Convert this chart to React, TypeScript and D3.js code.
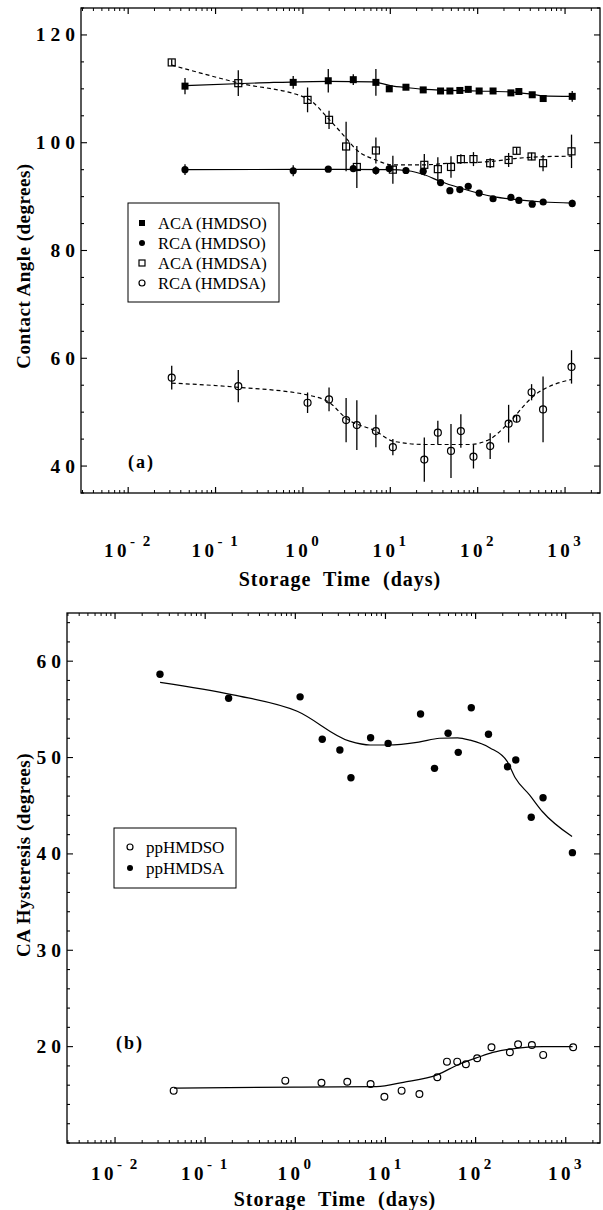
import React from 'react';
import * as d3 from 'd3';

// ---------- DATA ----------
// storage times (days)
const hmdsoTimes = [0.0447, 0.774, 1.95, 3.77, 6.84, 9.73, 15.1, 23.8, 37.6, 48.1, 62.5, 78.0, 104, 150, 240, 296, 421, 562, 1208];
const hmdsaTimes = [0.0315, 0.182, 1.13, 1.99, 3.12, 4.14, 6.84, 10.7, 24.5, 35.0, 49.5, 64.2, 89.5, 139, 226, 279, 414, 560, 1186];

// panel (a): contact angles (degrees)
const acaHmdso = [110.5, 111.2, 111.5, 111.7, 111.2, 110.0, 110.3, 109.8, 109.6, 109.6, 109.7, 109.9, 109.6, 109.6, 109.25, 109.5, 108.9, 108.2, 108.6];
const acaHmdsoErr = [1.5, 1.2, 2.2, 1.0, 2.5, 0.5, 0.5, 0.5, 0.5, 0.5, 0.5, 0.6, 0.5, 0.5, 0.5, 0.6, 0.5, 0.5, 1.0];
const rcaHmdso = [95.0, 94.8, 95.1, 95.2, 94.85, 95.2, 94.85, 94.7, 92.6, 91.1, 91.3, 91.9, 90.66, 89.6, 89.85, 89.3, 88.6, 89.0, 88.74];
const rcaHmdsoErr = [1.0, 1.0, 0.5, 0.5, 0.8, 0.5, 0.5, 0.5, 0.5, 0.5, 0.5, 0.5, 0.5, 0.5, 0.5, 0.5, 0.5, 0.5, 0.7];
const acaHmdsa = [114.9, 111.05, 107.95, 104.25, 99.3, 95.5, 98.56, 95.0, 95.9, 95.1, 95.5, 96.96, 96.96, 96.2, 96.8, 98.5, 97.45, 96.2, 98.4];
const acaHmdsaErr = [0.6, 2.4, 2.3, 1.7, 4.6, 3.9, 2.4, 2.6, 2.0, 2.2, 2.0, 0.9, 1.3, 0.9, 1.3, 0.6, 0.7, 1.5, 3.1];
const rcaHmdsa = [56.4, 54.83, 51.75, 52.36, 48.53, 47.6, 46.5, 43.5, 41.2, 46.2, 42.8, 46.5, 41.75, 43.7, 47.86, 48.8, 53.7, 50.5, 58.4];
const rcaHmdsaErr = [2.2, 3.0, 1.9, 2.2, 4.1, 4.6, 3.0, 1.5, 4.1, 2.2, 5.0, 3.1, 2.2, 2.4, 3.5, 0.7, 1.5, 6.1, 3.1];

// fitted curves panel (a): [days, degrees]
const acaHmdsoFit: [number, number][] = [[0.0447, 110.6], [0.316, 111.1], [2.0, 111.4], [6.3, 111.3], [10, 110.6], [15.8, 110.2], [25, 109.9], [100, 109.6], [251, 109.4], [417, 109.0], [562, 108.7], [1208, 108.6]];
const rcaHmdsoFit: [number, number][] = [[0.0447, 95.0], [1, 95.05], [10, 95.0], [15.8, 94.8], [25, 94.0], [37.6, 92.8], [63, 91.6], [150, 90.0], [295, 89.4], [562, 89.0], [1208, 88.8]];
const acaHmdsaFit: [number, number][] = [[0.0315, 114.4], [0.182, 111.1], [1.12, 108.2], [2.0, 104.3], [3.1, 100.9], [4.1, 98.7], [6.84, 96.8], [10.6, 95.9], [24, 95.9], [49, 96.2], [138, 96.5], [279, 97.1], [553, 97.4], [1186, 97.5]];
const rcaHmdsaFit: [number, number][] = [[0.0315, 55.4], [0.185, 54.6], [1.12, 53.2], [2.0, 51.8], [3.16, 48.8], [6.76, 46.5], [10.8, 44.6], [25, 44.0], [80, 44.0], [138, 45.0], [214, 47.6], [437, 53.0], [1200, 56.1]];

// panel (b): hysteresis (degrees)
const hystHmdso = [15.43, 16.47, 16.26, 16.36, 16.12, 14.8, 15.43, 15.09, 16.82, 18.44, 18.44, 18.17, 18.79, 19.93, 19.41, 20.24, 20.17, 19.14, 19.93];
const hystHmdsa = [58.64, 56.15, 56.3, 51.9, 50.78, 47.9, 52.06, 51.47, 54.52, 48.88, 52.52, 50.54, 55.17, 52.41, 49.05, 49.75, 43.8, 45.83, 40.13];
const hystHmdsoFit: [number, number][] = [[0.0452, 15.7], [1, 15.8], [7.94, 15.85], [15.8, 16.3], [38, 17.1], [63.1, 18.1], [107, 18.9], [155, 19.4], [295, 19.85], [562, 20.0], [1189, 20.0]];
const hystHmdsaFit: [number, number][] = [[0.0316, 57.8], [0.204, 56.5], [1.05, 54.8], [4.0, 51.7], [6.76, 51.3], [10.5, 51.3], [23.4, 51.6], [39.8, 52.0], [63.1, 52.05], [87.1, 51.8], [144.5, 51.0], [224, 49.6], [275, 47.9], [398, 46.1], [550, 44.4], [1175, 41.8]];

// axes
const xDecades = [-2, -1, 0, 1, 2, 3];
const yTicksA = [40, 60, 80, 100, 120];
const yTicksB = [20, 30, 40, 50, 60];
const legendA = ['ACA (HMDSO)', 'RCA (HMDSO)', 'ACA (HMDSA)', 'RCA (HMDSA)'];
const legendB = ['ppHMDSO', 'ppHMDSA'];

const SERIF = "'Liberation Serif', 'Times New Roman', serif";

type Marker = 'fsq' | 'fci' | 'osq' | 'oci';

function MarkerShape({ kind, x, y, s }: { kind: Marker; x: number; y: number; s: number }) {
  if (kind === 'fsq') return <rect x={x - s / 2} y={y - s / 2} width={s} height={s} fill="#000" />;
  if (kind === 'osq') return <rect x={x - s / 2} y={y - s / 2} width={s} height={s} fill="none" stroke="#000" strokeWidth={1.2} />;
  if (kind === 'fci') return <circle cx={x} cy={y} r={s / 2} fill="#000" />;
  return <circle cx={x} cy={y} r={s / 2} fill="none" stroke="#000" strokeWidth={1.2} />;
}

function Frame({ x, y, yMinor, yMajor, labelBaseline }: any) {
  const [x0, x1] = x.range();
  const [y0, y1] = y.range(); // y0 bottom, y1 top
  const dom = x.domain();
  const minors: number[] = [];
  for (let d = -3; d <= 3; d++) {
    for (let k = 2; k <= 9; k++) {
      const v = k * Math.pow(10, d);
      if (v > dom[0] && v < dom[1]) minors.push(v);
    }
  }
  const majorLen = 6, minorLen = 3;
  return (
    <g>
      <rect x={x0} y={y1} width={x1 - x0} height={y0 - y1} fill="none" stroke="#000" strokeWidth={1.3} />
      {xDecades.map((d) => {
        const px = x(Math.pow(10, d));
        return (
          <g key={'xm' + d}>
            <line x1={px} x2={px} y1={y0} y2={y0 - majorLen} stroke="#000" strokeWidth={1.2} />
            <line x1={px} x2={px} y1={y1} y2={y1 + majorLen} stroke="#000" strokeWidth={1.2} />
            <text x={px} y={labelBaseline} textAnchor="middle" fontFamily={SERIF} fontWeight="bold" fontSize={19} letterSpacing={3.5}>
              10<tspan dy={-11} fontSize={15} letterSpacing={2}>{String(d).replace('-', '- ')}</tspan>
            </text>
          </g>
        );
      })}
      {minors.map((v, i) => {
        const px = x(v);
        return (
          <g key={'xn' + i}>
            <line x1={px} x2={px} y1={y0} y2={y0 - minorLen} stroke="#000" strokeWidth={1} />
            <line x1={px} x2={px} y1={y1} y2={y1 + minorLen} stroke="#000" strokeWidth={1} />
          </g>
        );
      })}
      {yMinor.map((v: number, i: number) => {
        const py = y(v);
        const isMajor = yMajor.includes(v);
        const len = isMajor ? majorLen : minorLen;
        return (
          <g key={'y' + i}>
            <line x1={x0} x2={x0 + len} y1={py} y2={py} stroke="#000" strokeWidth={1.1} />
            <line x1={x1} x2={x1 - len} y1={py} y2={py} stroke="#000" strokeWidth={1.1} />
          </g>
        );
      })}
      {yMajor.map((v: number) => (
        <text key={'yl' + v} x={x0 - 1} y={y(v) + 6.5} textAnchor="end" fontFamily={SERIF} fontWeight="bold" fontSize={19.5} letterSpacing={5}>
          {v}
        </text>
      ))}
    </g>
  );
}

function Series({ x, y, times, vals, errs, kind, size }: any) {
  return (
    <g>
      {errs &&
        times.map((t: number, i: number) => (
          <line key={'e' + i} x1={x(t)} x2={x(t)} y1={y(vals[i] - errs[i])} y2={y(vals[i] + errs[i])} stroke="#000" strokeWidth={1.3} />
        ))}
      {times.map((t: number, i: number) => (
        <MarkerShape key={'m' + i} kind={kind} x={x(t)} y={y(vals[i])} s={size} />
      ))}
    </g>
  );
}

function Fit({ x, y, pts, dashed }: any) {
  const line = d3
    .line<[number, number]>()
    .x((d) => x(d[0]))
    .y((d) => y(d[1]))
    .curve(d3.curveMonotoneX);
  return <path d={line(pts) || ''} fill="none" stroke="#000" strokeWidth={1.2} strokeDasharray={dashed ? '4,3' : undefined} />;
}

export default function App() {
  const W = 603, H = 1210;
  // panel (a)
  const xA = d3.scaleLog().domain([Math.pow(10, -2.54), Math.pow(10, 3.4)]).range([81, 600]);
  const yA = d3.scaleLinear().domain([35, 125]).range([493, 8]);
  // panel (b)
  const xB = d3.scaleLog().domain([Math.pow(10, -2.533), Math.pow(10, 3.38)]).range([67, 600]);
  const yB = d3.scaleLinear().domain([10, 65]).range([1143, 613]);

  const yMinorA = d3.range(35, 126, 5);
  const yMinorB = d3.range(10, 65, 2);

  const legendKindsA: Marker[] = ['fsq', 'fci', 'osq', 'oci'];
  const legendKindsB: Marker[] = ['oci', 'fci'];

  return (
    <svg width={W} height={H} viewBox={`0 0 ${W} ${H}`} style={{ display: 'block', position: 'absolute', left: 0, top: 0, background: '#fff' }}>
      <rect x={0} y={0} width={W} height={H} fill="#fff" />
      {/* ---------- Panel (a) ---------- */}
      <Frame x={xA} y={yA} yMinor={yMinorA} yMajor={yTicksA} labelBaseline={557} />
      <Fit x={xA} y={yA} pts={acaHmdsoFit} />
      <Fit x={xA} y={yA} pts={rcaHmdsoFit} />
      <Fit x={xA} y={yA} pts={acaHmdsaFit} dashed />
      <Fit x={xA} y={yA} pts={rcaHmdsaFit} dashed />
      <Series x={xA} y={yA} times={hmdsoTimes} vals={acaHmdso} errs={acaHmdsoErr} kind="fsq" size={7} />
      <Series x={xA} y={yA} times={hmdsoTimes} vals={rcaHmdso} errs={rcaHmdsoErr} kind="fci" size={7.2} />
      <Series x={xA} y={yA} times={hmdsaTimes} vals={acaHmdsa} errs={acaHmdsaErr} kind="osq" size={7} />
      <Series x={xA} y={yA} times={hmdsaTimes} vals={rcaHmdsa} errs={rcaHmdsaErr} kind="oci" size={7} />

      <rect x={128} y={203} width={151} height={99} fill="#fff" stroke="#000" strokeWidth={1} />
      {legendA.map((lab, i) => (
        <g key={lab}>
          <MarkerShape kind={legendKindsA[i]} x={142} y={223 + i * 20} s={6} />
          <text x={158} y={229 + i * 20} fontFamily={SERIF} fontSize={16.5}>
            {lab}
          </text>
        </g>
      ))}
      <text x={128} y={468} fontFamily={SERIF} fontWeight="bold" fontSize={18} letterSpacing={2}>
        (a)
      </text>
      <text x={340} y={586} textAnchor="middle" fontFamily={SERIF} fontWeight="bold" fontSize={20} letterSpacing={1} wordSpacing={6}>
        Storage Time (days)
      </text>
      <text transform="translate(30,266) rotate(-90)" textAnchor="middle" fontFamily={SERIF} fontWeight="bold" fontSize={19} letterSpacing={0.5}>
        Contact Angle (degrees)
      </text>

      {/* ---------- Panel (b) ---------- */}
      <Frame x={xB} y={yB} yMinor={yMinorB} yMajor={yTicksB} labelBaseline={1180} />
      <Fit x={xB} y={yB} pts={hystHmdsoFit} />
      <Fit x={xB} y={yB} pts={hystHmdsaFit} />
      <Series x={xB} y={yB} times={hmdsoTimes} vals={hystHmdso} kind="oci" size={6.8} />
      <Series x={xB} y={yB} times={hmdsaTimes} vals={hystHmdsa} kind="fci" size={7.4} />

      <rect x={114} y={828} width={122} height={60} fill="#fff" stroke="#000" strokeWidth={1} />
      {legendB.map((lab, i) => (
        <g key={lab}>
          <MarkerShape kind={legendKindsB[i]} x={130} y={847 + i * 21} s={6} />
          <text x={146} y={853 + i * 21} fontFamily={SERIF} fontSize={17}>
            {lab}
          </text>
        </g>
      ))}
      <text x={116} y={1049} fontFamily={SERIF} fontWeight="bold" fontSize={18} letterSpacing={2}>
        (b)
      </text>
      <text x={335} y={1206} textAnchor="middle" fontFamily={SERIF} fontWeight="bold" fontSize={20} letterSpacing={1} wordSpacing={6}>
        Storage Time (days)
      </text>
      <text transform="translate(30,855) rotate(-90)" textAnchor="middle" fontFamily={SERIF} fontWeight="bold" fontSize={19} letterSpacing={0.5}>
        CA Hysteresis (degrees)
      </text>
    </svg>
  );
}
